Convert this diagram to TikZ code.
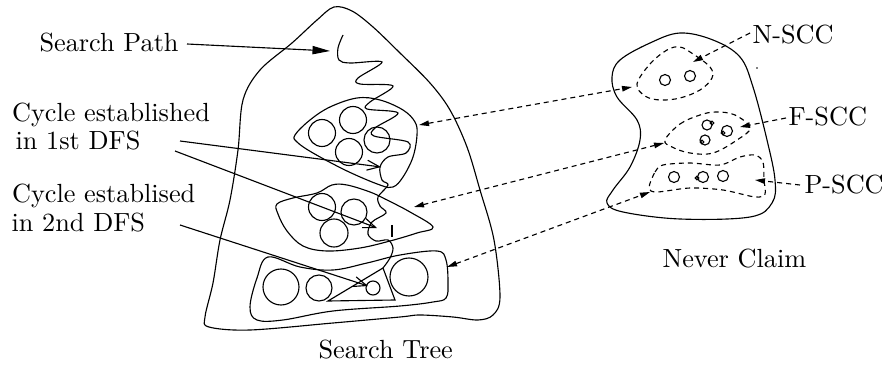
\documentclass[tikz,border=0pt]{standalone}
\usetikzlibrary{arrows.meta}
\begin{document}
\begin{tikzpicture}[x=0.4pt,y=-0.4pt, line width=0.45pt,
 lbl/.style={anchor=base west, inner sep=0pt, font=\fontsize{10.5}{12}\selectfont},
 solidarr/.style={-{Triangle[length=7pt,width=3.3pt]}},
 openarr/.style={-{Straight Barb[length=5pt,width=4pt]}},
 dashline/.style={dash pattern=on 2pt off 1.6pt},
 darr/.style={dashline, -{Triangle[length=4pt,width=2.2pt]}},
 ddarr/.style={dashline, {Triangle[length=4pt,width=2.2pt]}-{Triangle[length=4pt,width=2.2pt]}},
 blob/.style={smooth cycle, tension=0.6},
]
\useasboundingbox (0,0) rectangle (887,366);

% labels
\node[lbl] (sp) at (39,52) {Search Path};
\node[lbl] (c1a) at (11.5,122) {Cycle established};
\node[lbl] (c1b) at (15,150) {in 1st DFS};
\node[lbl] (c2a) at (11.5,203) {Cycle establised};
\node[lbl] (c2b) at (11,231) {in 2nd DFS};
\node[lbl] (st) at (318,358) {Search Tree};
\node[lbl] (nc) at (662,267) {Never Claim};
\node[lbl] (nscc) at (752,44) {N-SCC};
\node[lbl] (fscc) at (788,126) {F-SCC};
\node[lbl] (pscc) at (804,194) {P-SCC};

% search tree outline
\draw plot[smooth cycle, tension=0.55] coordinates {
 (334,7) (352,11) (373,27) (400,53) (430,83) (450,110) (467,147) (480,190)
 (494,240) (500,297) (493,315) (478,320) (453,317) (420,315) (400,317)
 (333,323) (250,330) (209,327) (205,317) (213,283) (220,240) (230,200)
 (238,150) (243,100) (260,70) (292,43) (317,20)};

% region 1
\draw plot[blob] coordinates {
 (295,135) (310,120) (330,107) (357,98) (380,100) (403,110) (415,122)
 (417,135) (413,157) (403,177) (393,187) (380,185) (347,171) (313,153) (297,142)};
\draw (322,133) circle[radius=13.5];
\draw (353,120) circle[radius=13.5];
\draw (377,140) circle[radius=13];
\draw (349,152) circle[radius=13.5];

% region 2
\draw plot[blob] coordinates {
 (277,204) (293,198) (317,193) (332,185) (347,185) (370,192) (385,199)
 (410,212) (433,227) (417,233) (390,241) (360,248) (327,251) (303,246)
 (287,231) (278,214)};
\draw (322,207) circle[radius=13.5];
\draw (354,212) circle[radius=13];
\draw (334,233) circle[radius=14];

% region 3
\draw plot[blob] coordinates {
 (250,307) (257,278) (268,257) (300,267) (333,270) (367,263) (400,255)
 (437,251) (446,260) (448,283) (446,298) (433,302) (400,306) (333,311)
 (283,320) (257,320)};
\draw (281,287) circle[radius=18];
\draw (319,288) circle[radius=13];
\draw (409,277) circle[radius=19];
\draw (373,288) circle[radius=7];

% triangle
\coordinate (ta) at (383,268);
\coordinate (tb) at (328,301);
\coordinate (tc) at (395,300);
\draw (ta) -- (tb) -- (tc) -- cycle;

% search path
\draw plot[smooth, tension=0.55] coordinates {
 (343,35) (338,48) (339,60) (350,63) (382,62) (358,78) (360,84) (393,86)
 (370,102) (367,109) (398,113) (375,128) (374,136) (408,142) (406,153)
 (388,157) (380,167) (382,180) (388,185) (378,197) (380,206) (386,213)
 (372,222) (368,234) (376,241) (388,240) (393,248) (390,258) (383,268)};
\draw (392,225) -- (392,237);

% arrows from labels
\coordinate (spS) at (187,44);
\coordinate (spE) at (330,51);
\draw[solidarr] (spS) -- (spE);
\coordinate (c1S1) at (180,141);
\coordinate (c1E1) at (381,167);
\coordinate (c1S2) at (175,151);
\coordinate (c1E2) at (377,228);
\draw[openarr] (c1S1) -- (c1E1);
\draw[openarr] (c1S2) -- (c1E2);
\coordinate (c2S) at (180,225);
\coordinate (c2E) at (368,286);
\draw[openarr] (c2S) -- (c2E);

% never claim
\draw plot[smooth cycle, tension=0.6] coordinates {
 (680,33) (713,40) (740,57) (753,87) (767,140) (775,180) (772,203) (750,217)
 (680,219) (623,212) (607,203) (613,190) (630,167) (640,140) (637,120)
 (617,97) (612,77) (620,60) (650,43)};
\fill (757,68) circle[radius=0.9];

% N-SCC blob
\draw[dashline] plot[blob] coordinates {
 (637,84) (650,64) (667,50) (680,47) (693,54) (710,67) (712,78) (700,90)
 (680,98) (660,100) (645,96)};
\draw (665,80) circle[radius=5.5];
\draw (690,76) circle[radius=5.5];

% F-SCC blob
\draw[dashline] plot[blob] coordinates {
 (665,140) (680,124) (700,115) (716,112) (735,115) (750,128) (737,140)
 (713,153) (690,153) (672,147)};
\draw (707,125) circle[radius=5];
\draw (727,131) circle[radius=5.5];
\draw (705,140) circle[radius=5];
\draw (712,123) circle[radius=1.8];
\draw (723,133) circle[radius=1.8];
\draw (702,142) circle[radius=1.8];

% P-SCC blob
\draw[dashline] plot[smooth cycle, tension=0.5] coordinates {
 (649,188) (655,172) (663,165) (690,163) (720,165) (740,157) (755,155)
 (763,162) (764,180) (765,194) (755,197) (723,190) (690,188) (657,192)};
\draw (674,177) circle[radius=5.5];
\draw (703,177) circle[radius=5.5];
\draw (723,176) circle[radius=5.5];
\draw (697,178) circle[radius=1.8];

% dashed correspondences
\coordinate (d1a) at (419,125);
\coordinate (d1b) at (632,87);
\draw[ddarr] (d1a) -- (d1b);
\coordinate (d2a) at (414,207);
\coordinate (d2b) at (664,143);
\draw[ddarr] (d2a) -- (d2b);
\coordinate (d3a) at (447,267);
\coordinate (d3b) at (650,192);
\draw[ddarr] (d3a) -- (d3b);

% label dashed arrows
\coordinate (nS) at (750,33);
\coordinate (nE) at (693,62);
\draw[darr] (nS) -- (nE);
\coordinate (fS) at (786,118);
\coordinate (fE) at (740,127);
\draw[darr] (fS) -- (fE);
\coordinate (pS) at (800,185);
\coordinate (pE) at (755,180);
\draw[darr] (pS) -- (pE);
\end{tikzpicture}
\end{document}
